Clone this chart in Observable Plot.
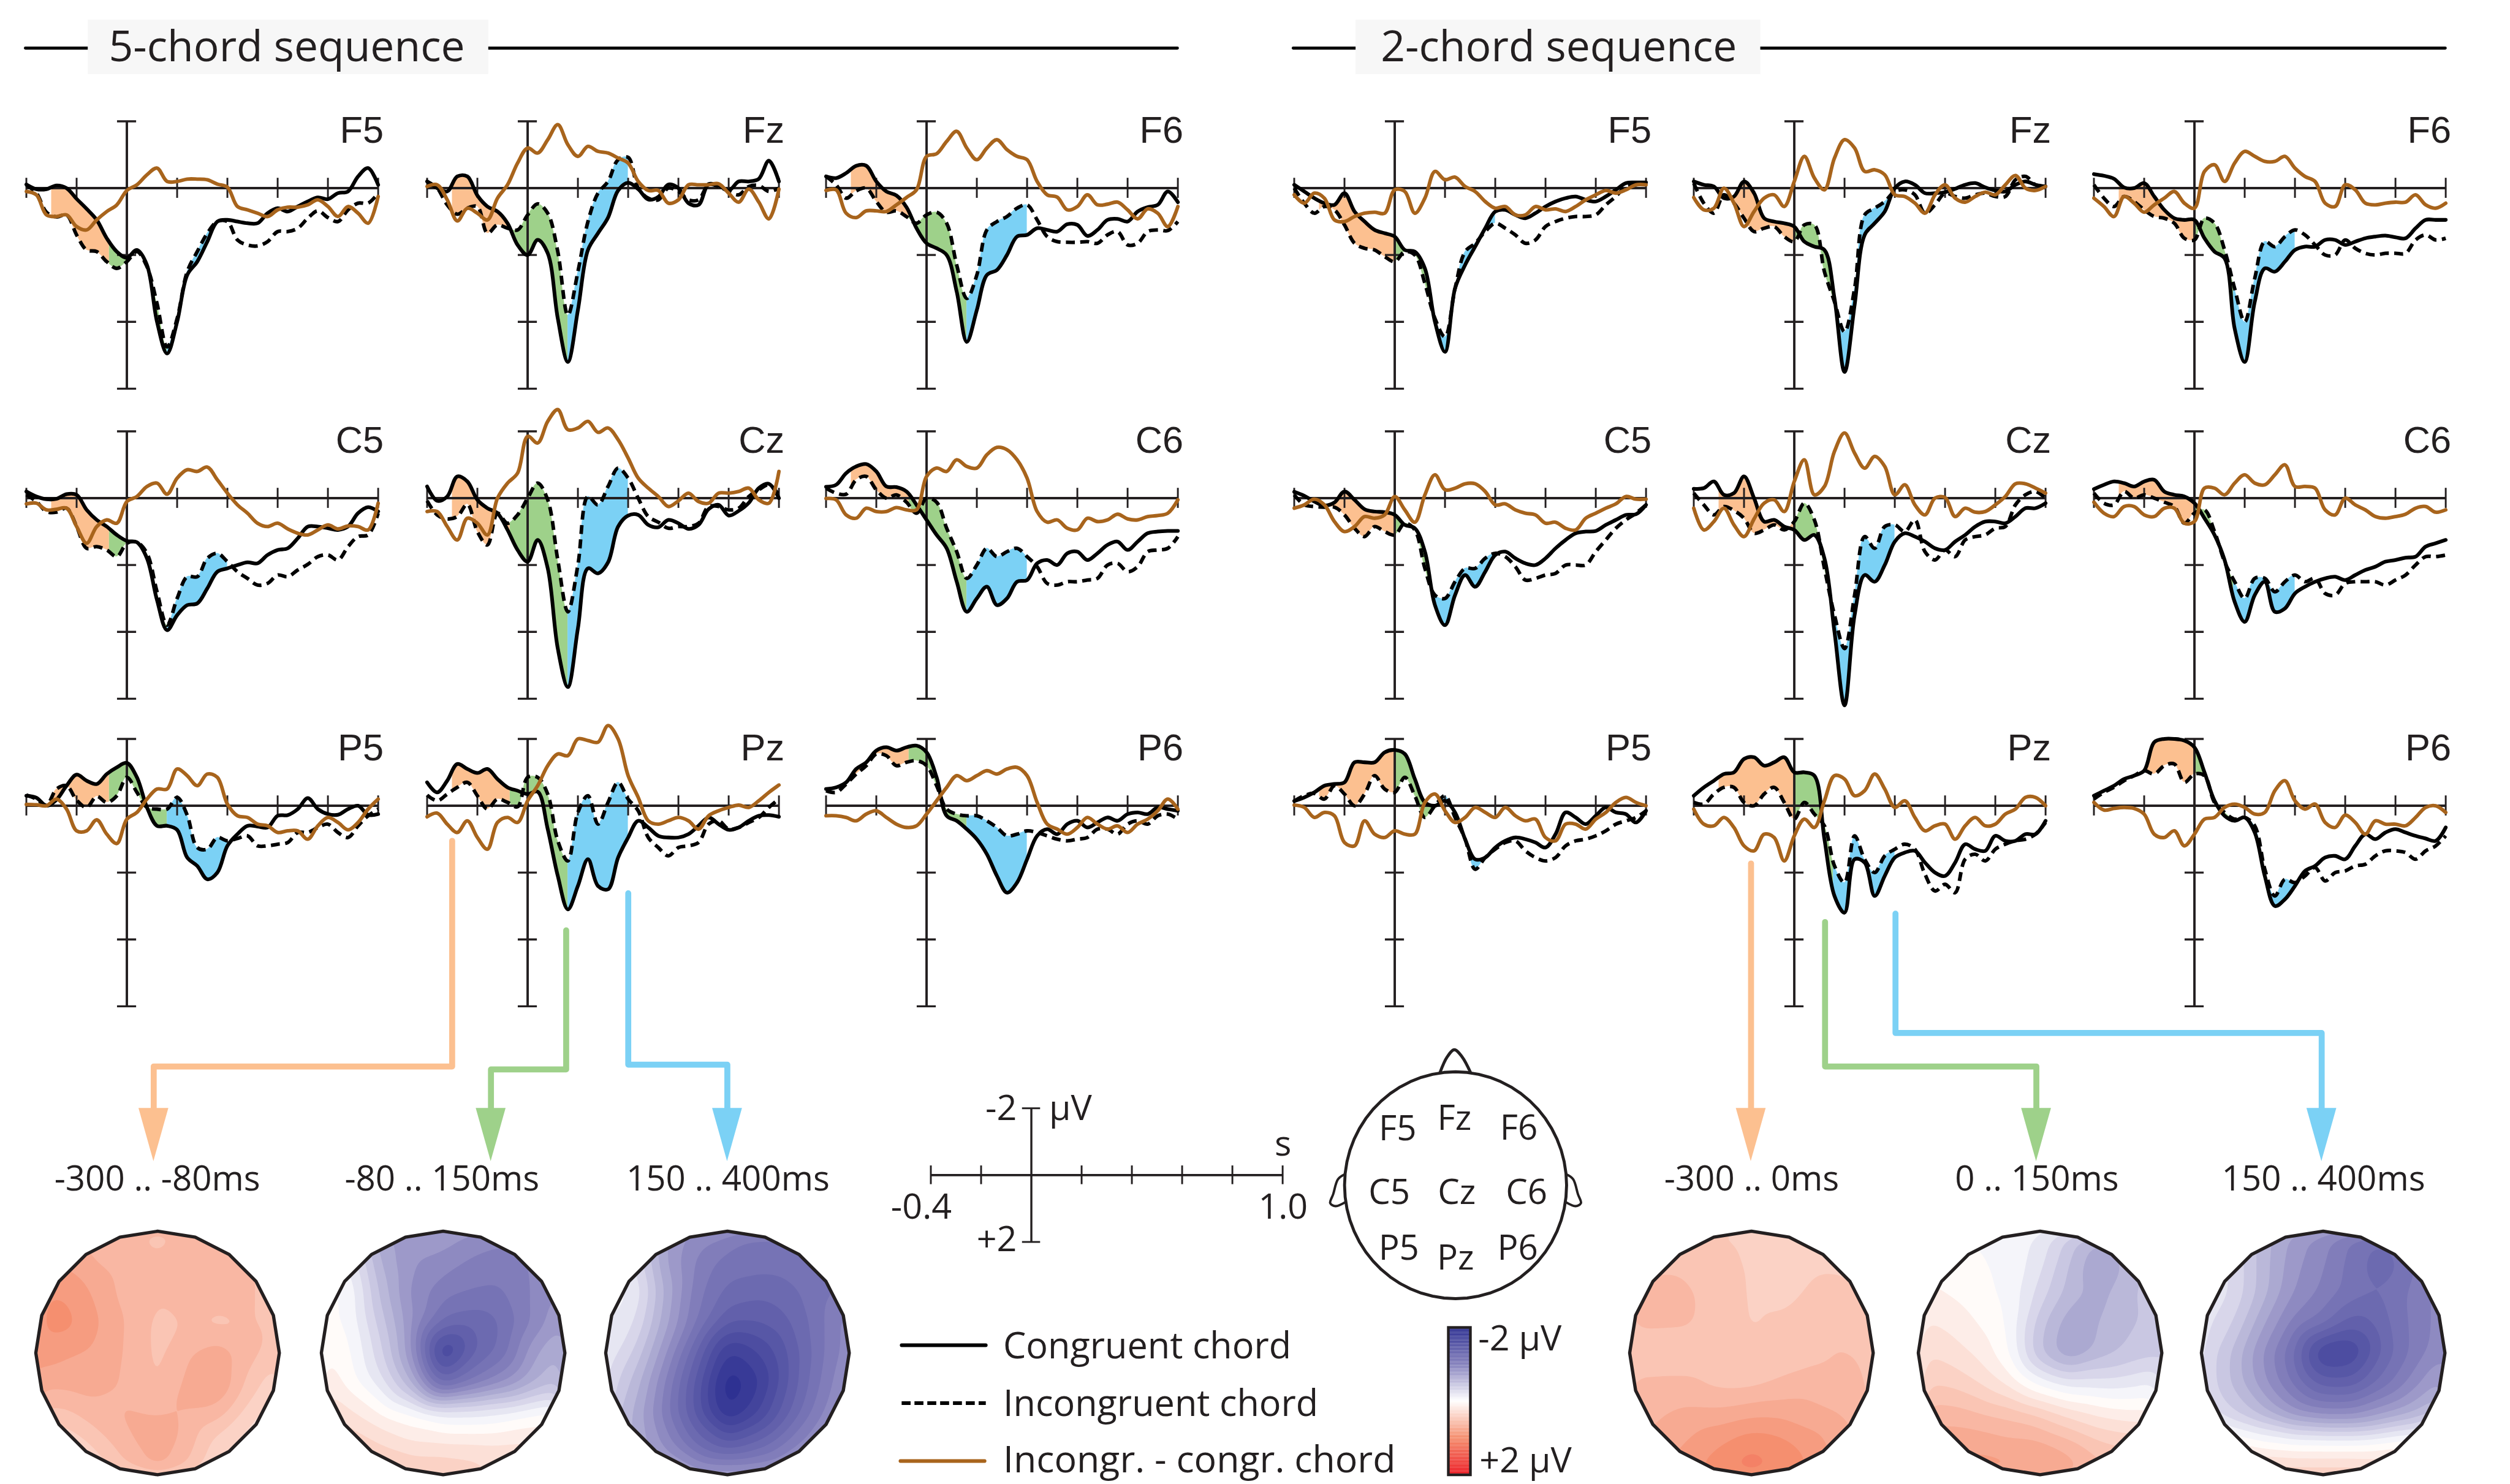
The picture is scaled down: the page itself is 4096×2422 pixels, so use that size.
<!DOCTYPE html>
<html>
<head>
<meta charset="utf-8">
<script src="https://cdn.jsdelivr.net/npm/d3@7"></script>
<script src="https://cdn.jsdelivr.net/npm/@observablehq/plot@0.6"></script>
<style>
html,body{margin:0;padding:0;background:#fff}
#page{position:relative;width:4096px;height:2422px;overflow:hidden;background:#fff}
#page svg{position:absolute;overflow:visible;max-width:none;background:transparent}
</style>
</head>
<body>
<div id="page"></div>
<script>
// ---------- time base of every ERP trace (s) ----------
const times = [-0.40,-0.36,-0.32,-0.28,-0.24,-0.20,-0.16,-0.12,-0.08,-0.04,0,0.04,0.08,0.12,0.16,0.20,0.24,0.28,0.32,0.36,0.40,0.44,0.48,0.52,0.56,0.60,0.64,0.68,0.72,0.76,0.80,0.84,0.88,0.92,0.96,1.00];

// ---------- 5-chord sequence, µV (negative up) ----------
const five_F5_cong = [-.11,.03,.03,-.08,0,.32,.62,.95,1.5,1.9,2.08,1.85,2.3,4.0,4.95,4.0,2.6,2.2,1.6,1.0,.95,1.0,1.05,1.05,.75,.6,.7,.55,.4,.28,.33,.15,.1,-.35,-.6,-.1];
const five_F5_incong = [-.09,.15,.72,.86,.8,1.4,1.85,1.9,2.2,2.4,2.2,1.9,2.35,3.45,4.75,3.9,2.5,1.9,1.35,1.0,1.0,1.55,1.7,1.73,1.6,1.3,1.3,1.2,.9,.68,.88,1.0,.65,.45,.45,.15];
const five_F5_diff = [.1,.2,.8,.85,.8,1.15,1.25,.95,.7,.5,.07,-.1,-.4,-.6,-.2,-.2,-.27,-.27,-.25,-.12,-.03,.55,.65,.75,.85,.65,.57,.57,.5,.35,.55,.85,.55,.75,1.05,.25];
const five_Fz_cong = [-.2,0,.1,-.35,-.35,.22,.55,.7,1.05,1.7,2.0,1.55,1.95,3.9,5.2,3.65,1.85,1.35,.88,.07,-.16,.03,.34,.26,-.11,0,.45,.5,-.12,-.08,.07,-.2,-.2,-.28,-.82,-.2];
const five_Fz_incong = [-.2,0,.5,.78,.6,.55,1.35,1.1,1.2,1.25,.8,.47,.75,1.9,3.8,2.5,1.0,.15,-.2,-.85,-.92,0,.3,.35,0,.1,.35,.35,-.1,-.05,.1,.2,-.05,-.08,.1,0];
const five_Fz_diff = [-.05,-.1,.35,.98,.6,.75,.95,.3,-.1,-.75,-1.2,-1.05,-1.45,-1.9,-1.3,-.95,-1.25,-1.1,-1.05,-.9,-.75,-.2,.07,.07,.45,.35,-.1,-.1,-.1,-.13,.15,.42,.03,.42,.92,.03];
const five_F6_cong = [-.35,-.3,-.45,-.67,-.67,-.2,.1,.22,.57,1.2,1.65,1.8,2.0,3.1,4.6,3.65,2.6,2.45,2.0,1.45,1.4,1.2,1.25,1.3,1.08,1.1,1.43,1.25,.95,.92,1.0,.7,.57,.5,.1,.42];
const five_F6_incong = [-.35,-.1,.3,.08,0,.4,.72,.68,.85,1.05,.8,.72,1.05,2.3,3.3,2.6,1.25,1.0,.85,.6,.5,.95,1.45,1.6,1.62,1.62,1.6,1.65,1.4,1.3,1.7,1.65,1.3,1.25,1.27,1.0];
const five_F6_diff = [.07,.05,.75,.88,.68,.68,.7,.5,.28,.05,-.95,-1.03,-1.4,-1.7,-1.2,-.85,-1.2,-1.45,-1.15,-.95,-.85,-.2,.2,.27,.65,.55,.2,.5,.48,.42,.65,.92,.62,.75,1.15,.55];
const five_C5_cong = [-.2,-.05,.03,.02,-.12,-.1,.35,.65,.85,1.1,1.28,1.32,1.8,3.05,3.95,3.5,3.2,3.15,2.7,2.2,2.1,2.0,1.92,1.95,1.7,1.55,1.5,1.2,.85,.85,.9,.95,.85,.45,.27,.4];
const five_C5_incong = [-.1,.1,.4,.42,.3,.85,1.5,1.45,1.55,1.75,1.35,1.32,1.65,2.8,3.8,3.0,2.35,2.35,1.8,1.65,1.9,2.2,2.4,2.6,2.55,2.3,2.35,2.15,1.98,1.75,1.7,1.85,1.45,1.15,1.1,.45];
const five_C5_diff = [.17,.15,.35,.33,.3,.85,1.35,.85,.65,.75,.1,-.05,-.35,-.45,-.12,-.6,-.85,-.8,-.93,-.55,-.15,.2,.45,.75,.85,.75,.92,1.05,1.1,.95,.8,.92,.83,.85,.95,.15];
const five_Cz_cong = [-.35,.08,-.05,-.65,-.5,.05,.3,.45,.95,1.55,1.9,1.25,2.1,4.5,5.65,3.9,2.1,2.25,1.92,.85,.52,.5,.8,.87,.65,.75,.92,.8,.33,.2,.52,.38,.14,-.3,-.43,0];
const five_Cz_incong = [.08,.5,.62,.55,.18,1.0,1.4,.45,.75,.5,0,-.45,.05,1.85,3.4,2.0,-.05,.2,-.35,-.9,-.6,0,.55,.72,.9,.85,.85,.75,.25,.25,.35,.3,-.05,-.25,-.4,-.1];
const five_Cz_diff = [.4,.4,.85,1.25,.6,.75,1.1,0,-.45,-.75,-1.85,-1.65,-2.3,-2.65,-2.05,-2.1,-2.3,-1.97,-2.1,-1.75,-1.2,-.6,-.3,-.05,.25,.08,-.15,.1,.15,-.15,-.15,-.2,-.3,.05,.15,-.8];
const five_C6_cong = [-.34,-.4,-.75,-.95,-1.02,-.8,-.35,-.33,-.2,.2,.65,1.1,1.5,2.5,3.4,3.0,2.65,3.2,3.0,2.5,2.45,1.95,1.85,2.0,1.65,1.6,1.85,1.65,1.4,1.3,1.55,1.3,1.05,1.0,.98,.98];
const five_C6_incong = [-.3,-.15,-.12,-.55,-.65,-.25,0,-.1,.12,.45,0,.12,.9,1.6,2.4,2.0,1.5,1.75,1.6,1.5,1.75,2.05,2.55,2.6,2.5,2.5,2.45,2.4,2.0,1.95,2.2,2.05,1.6,1.55,1.5,1.15];
const five_C6_diff = [.01,.05,.5,.6,.3,.4,.4,.28,.35,.35,-.65,-.9,-.8,-1.15,-.95,-.9,-1.3,-1.52,-1.45,-1.15,-.6,.4,.72,.65,.9,.95,.6,.7,.65,.48,.62,.65,.55,.52,.45,.05];
const five_P5_cong = [-.3,-.24,0,-.18,-.6,-.93,-.75,-.65,-.95,-1.15,-1.28,-.85,.05,.6,.6,.72,1.55,1.8,2.2,2.0,1.2,.85,.6,.62,.65,.3,.28,.1,-.23,.1,.25,.27,.1,0,.27,.25];
const five_P5_incong = [-.32,-.2,-.02,-.5,-.6,-.17,.05,-.28,-.1,-.3,-.85,-.4,.05,.1,.1,-.25,.28,1.25,1.3,.95,1.05,.98,.9,1.2,1.2,1.15,1.1,.8,.8,.65,.55,.8,.95,.6,.3,.1];
const five_P5_diff = [-.04,-.03,0,-.2,.1,.75,.75,.42,.85,1.13,.4,.2,-.2,-.5,-.5,-1.1,-.9,-.6,-.95,-.85,-.05,.3,.35,.55,.6,.8,.75,.75,1.0,.6,.35,.5,.72,.5,.1,-.2];
const five_Pz_cong = [-.7,-.4,-.75,-1.25,-1.1,-.98,-1.1,-.8,-.55,-.45,-.35,-.42,.7,2.1,3.1,2.4,1.6,2.4,2.5,1.55,.95,.45,.65,.9,.95,.95,.85,.6,.35,.55,.72,.65,.45,.3,.28,.33];
const five_Pz_incong = [-.32,-.15,-.35,-.55,-.7,-.3,.1,-.2,-.1,.03,-.85,-.85,-.35,1.05,1.65,.2,-.3,.55,-.1,-.7,-.2,.15,.95,1.25,1.5,1.25,1.2,1.1,.55,.45,.7,.65,.5,.35,.05,-.2];
const five_Pz_diff = [.33,.22,.55,.8,.45,.95,1.3,.5,.35,.5,-.15,-.6,-1.2,-1.55,-1.5,-2.0,-1.95,-1.9,-2.4,-2.0,-.9,-.25,.45,.55,.45,.35,.45,.7,.3,.15,.05,-.02,.05,-.15,-.4,-.62];
const five_P6_cong = [-.5,-.55,-.7,-1.1,-1.3,-1.65,-1.75,-1.65,-1.75,-1.8,-1.6,-.85,.3,.45,.7,1.0,1.45,2.1,2.6,2.3,1.6,.9,.7,.85,.55,.45,.65,.5,.35,.45,.25,.2,.25,.05,.1,.15];
const five_P6_incong = [-.45,-.4,-.65,-.95,-1.2,-1.55,-1.5,-1.2,-1.3,-1.35,-1.2,-.6,.1,.25,.3,.3,.45,.65,.9,.85,.75,.8,.9,1.0,1.05,1.0,.95,.7,.7,.85,.55,.45,.55,.3,.25,.4];
const five_P6_diff = [.3,.3,.35,.45,.25,.15,.35,.55,.65,.6,.25,-.15,-.55,-.9,-.75,-.9,-1.05,-.95,-1.1,-1.15,-.9,-.1,.55,.7,.85,.65,.35,.55,.7,.6,.8,.55,.4,.15,-.2,.1];

// ---------- 2-chord sequence, µV (negative up) ----------
const two_F5_cong = [-.1,.1,.3,.45,.5,.15,.7,1.0,1.25,1.35,1.45,1.85,1.9,2.4,4.0,4.9,3.0,2.3,1.75,1.2,.7,.65,.8,.9,.75,.55,.4,.3,.25,.35,.4,.25,.05,-.15,-.17,-.17];
const two_F5_incong = [0,.45,.75,.55,.65,1.1,1.65,1.8,1.85,2.05,2.2,1.9,2.0,2.85,3.9,4.45,3.0,1.9,1.65,1.3,1.05,1.2,1.4,1.65,1.55,1.15,1.0,.9,.85,.85,.8,.5,.25,-.05,-.1,-.15];
const two_F5_diff = [.2,.45,.15,.3,.95,1.0,.85,.75,.72,.75,.05,.1,.75,.3,-.5,-.25,-.33,-.05,.1,.4,.6,.55,.8,.8,.55,.65,.62,.7,.55,.35,.2,.07,.15,.05,-.1,-.1];
const two_Fz_cong = [-.2,-.1,-.05,.3,.25,-.2,.15,.9,1.0,1.05,1.15,1.6,1.75,1.85,3.3,5.5,3.5,1.4,1.05,.7,0,-.2,-.1,.15,.15,.12,.02,-.1,-.15,-.02,.07,.1,-.1,-.2,-.1,-.05];
const two_Fz_incong = [-.15,.45,.75,.2,.45,.9,1.3,1.2,1.15,1.45,1.6,1.1,1.1,2.5,3.4,4.3,3.0,.8,.6,.4,.1,.05,.2,.75,.5,.15,.25,.3,.2,.15,.25,.25,-.25,-.35,-.1,-.05];
const two_Fz_diff = [.28,.65,.6,0,.45,1.15,.7,.3,.2,.55,-.2,-.95,-.3,.05,-.9,-1.45,-1.2,-.5,-.55,-.4,.2,.25,.45,.75,.2,-.1,.3,.42,.25,.12,.2,-.1,-.38,0,.07,-.05];
const two_F6_cong = [-.42,-.37,-.28,-.02,0,-.15,.25,.65,.9,.95,.95,1.5,1.9,2.1,4.2,5.2,3.4,2.4,2.5,2.2,1.85,1.75,1.75,1.55,1.55,1.7,1.6,1.5,1.45,1.42,1.47,1.5,1.2,.95,.95,.95];
const two_F6_incong = [-.1,.3,.55,.25,.4,.65,.85,.9,1.05,1.5,1.55,.9,1.05,1.85,3.0,4.0,2.7,1.6,1.75,1.45,1.25,1.4,1.7,2.0,2.0,1.55,1.8,1.95,2.0,1.95,1.95,1.95,1.55,1.4,1.55,1.5];
const two_F6_diff = [.3,.55,.85,.25,.45,.72,.5,.3,.1,.45,.6,-.5,-.7,-.2,-.75,-1.1,-.95,-.8,-.8,-.95,-.6,-.35,-.2,.45,.55,-.1,.05,.45,.5,.45,.42,.42,.2,.5,.6,.45];
const two_C5_cong = [-.19,-.07,.1,.22,.13,-.2,.05,.33,.4,.42,.5,.8,.9,1.6,3.2,3.8,2.9,2.3,2.65,2.2,1.7,1.6,1.8,1.95,2.0,1.8,1.5,1.25,1.05,1.0,.98,.8,.65,.5,.48,.2];
const two_C5_incong = [-.1,.2,.25,.27,.27,.5,.9,1.15,.85,1.0,1.1,.75,.95,2.1,2.9,3.0,2.5,2.1,2.1,1.8,1.65,1.75,2.05,2.45,2.4,2.3,2.25,2.0,2.0,2.0,1.6,1.25,.9,.65,.45,.2];
const two_C5_diff = [.3,.2,.03,.2,.7,1.0,.85,.55,.6,.5,-.05,.35,.72,-.1,-.7,-.25,-.3,-.43,-.43,-.2,.2,.17,.35,.45,.5,.75,.72,.9,.95,.6,.45,.3,.17,-.05,.03,.03];
const two_Cz_cong = [-.28,-.3,-.5,-.1,-.15,-.65,0,.7,.65,.85,.95,1.25,1.1,1.8,4.0,6.2,3.5,2.3,2.5,2.0,1.3,1.05,1.15,1.3,1.5,1.55,1.3,1.1,.85,.7,.7,.75,.55,.3,.3,.15];
const two_Cz_incong = [-.15,.2,.5,.25,.37,.6,1.05,.95,.8,.95,.7,.15,.65,2.1,3.5,4.5,2.9,1.15,1.5,.85,.8,1.0,.65,1.6,1.85,1.55,1.75,1.25,1.15,1.1,.9,.85,.2,-.1,-.2,0];
const two_Cz_diff = [.3,.95,.7,.3,.8,1.15,.62,.15,.05,.4,-.5,-1.15,-.1,-.35,-1.4,-1.95,-1.35,-.9,-1.25,-.95,-.1,-.4,.2,.5,0,-.02,.55,.3,.42,.4,.2,-.05,-.43,-.43,-.3,-.15];
const two_C6_cong = [-.27,-.4,-.5,-.45,-.35,-.5,-.55,-.2,-.1,-.05,.15,.6,1.1,1.85,3.1,3.7,2.9,2.5,3.4,3.3,2.85,2.65,2.5,2.4,2.35,2.45,2.3,2.15,2.05,1.9,1.85,1.78,1.75,1.45,1.35,1.25];
const two_C6_incong = [-.15,.15,.2,-.2,0,-.1,0,.12,.25,.75,.45,.35,1.0,1.9,2.5,3.0,2.4,2.4,2.8,2.5,2.3,2.5,2.4,2.85,2.9,2.55,2.5,2.5,2.5,2.6,2.45,2.3,2.0,1.75,1.75,1.7];
const two_C6_diff = [.12,.45,.55,.25,.25,.5,.55,.3,.3,.75,.7,-.3,-.3,-.1,-.45,-.7,-.45,-.4,-.7,-1.0,-.35,-.35,-.3,.35,.5,0,.2,.35,.55,.6,.55,.48,.3,.25,.42,.35];
const two_P5_cong = [-.14,-.25,-.4,-.6,-.65,-.7,-1.3,-1.3,-1.3,-1.6,-1.67,-1.55,-.8,-.1,0,-.15,.2,1.0,1.6,1.55,1.25,1.05,.95,1.0,1.1,1.25,.85,.2,.35,.55,.3,.05,.2,.25,.5,.15];
const two_P5_incong = [-.14,-.3,-.37,-.2,-.6,-.35,0,-.35,-.9,-.5,-.4,-.85,-.3,.35,0,-.3,.35,1.0,1.9,1.55,1.3,1.1,1.05,1.35,1.55,1.65,1.55,1.2,1.05,1.0,.9,.75,.55,.45,.35,.15];
const two_P5_diff = [-.02,.05,.35,.2,.3,1.1,1.2,.45,.85,.95,.75,.85,.85,-.1,-.35,.15,.5,.35,.05,.2,.35,.05,.3,.45,.4,.95,1.05,.55,.55,.7,.4,.2,-.1,-.25,-.1,0];
const two_Pz_cong = [-.3,-.55,-.75,-.95,-1.0,-1.4,-1.45,-1.2,-1.3,-1.45,-1.0,-1.0,-.9,1.0,2.7,3.2,1.6,1.7,2.7,2.1,1.55,1.4,1.35,1.7,2.0,2.1,1.7,1.15,1.3,1.35,.9,1.05,1.05,.85,.85,.45];
const two_Pz_incong = [-.1,-.05,-.35,-.55,-.55,-.1,0,-.35,-.55,-.1,.4,-.1,.25,.6,1.8,2.3,.9,1.6,2.0,1.5,1.3,1.15,1.3,2.05,2.55,2.35,2.6,1.6,1.45,1.65,1.3,1.15,1.05,1.0,.85,.5];
const two_Pz_diff = [.1,.55,.6,.35,.65,1.2,1.35,.85,.95,1.65,.9,.4,.65,-.15,-.9,-.8,-.3,-.45,-.95,-.5,.05,-.15,.35,.75,.6,.55,1.0,.6,.35,.6,.55,.25,.1,-.25,-.25,0];
const two_P6_cong = [-.3,-.45,-.6,-.8,-.9,-1.05,-1.9,-2.0,-2.0,-1.95,-1.75,-1.0,-.15,.3,.45,.35,.8,2.1,3.0,2.8,2.4,1.95,1.8,1.55,1.5,1.6,1.2,.85,1.0,.8,.7,.8,.9,.98,1.05,.65];
const two_P6_incong = [-.2,-.4,-.55,-.75,-.9,-1.05,-.95,-1.2,-1.25,-.7,-.95,-.9,-.1,.2,.4,.35,.6,1.9,2.7,2.2,2.3,2.1,1.85,2.25,2.0,1.95,1.8,1.75,1.5,1.35,1.35,1.4,1.6,1.35,1.2,.9];
const two_P6_diff = [-.1,.13,.08,.05,.08,.25,.85,.95,.75,1.2,.85,.4,.35,.05,-.05,.05,.25,.2,-.45,-.75,-.15,.1,-.05,.5,.65,.28,.5,.85,.45,.55,.55,.6,.35,.05,0,.2];

// ---------- scalp maps, µV, 9×9 samples, rows front to back ----------
const map_5_early = [
 [.8,.8,.7,.65,.6,.65,.65,.6,.6],[.9,.85,.75,.7,.65,.72,.7,.65,.6],[1.0,1.0,.85,.7,.65,.7,.7,.65,.6],
 [1.0,1.05,.9,.75,.6,.65,.6,.65,.6],[.95,.9,.85,.75,.6,.75,.85,.7,.55],[.8,.8,.8,.75,.62,.8,.9,.6,.4],
 [.6,.6,.72,.78,.75,.75,.7,.45,.3],[.4,.4,.55,.72,.85,.7,.45,.35,.2],[.3,.3,.4,.6,.8,.6,.35,.25,.2]];
const map_5_mid = [
 [-.2,-.4,-.7,-.75,-.7,-.8,-.85,-.8,-.7],[0,-.1,-.6,-.8,-.85,-.95,-1.0,-.9,-.8],[.1,0,-.5,-.85,-1.0,-1.05,-1.05,-.9,-.8],
 [.1,0,-.4,-.8,-1.2,-1.25,-1.15,-.9,-.65],[.2,.05,-.3,-.8,-1.75,-1.3,-1.1,-.7,-.5],[.3,.1,-.15,-.55,-1.25,-1.0,-.8,-.55,-.4],
 [.45,.3,.15,.05,-.1,-.1,-.05,.05,.1],[.6,.5,.4,.3,.3,.3,.3,.3,.3],[.75,.65,.55,.55,.55,.5,.4,.35,.35]];
const map_5_late = [
 [-.3,-.5,-.7,-.85,-.9,-1.05,-1.05,-1.0,-.9],[-.1,-.2,-.7,-.95,-1.1,-1.1,-1.1,-1.1,-1],[0,-.1,-.6,-1.0,-1.2,-1.25,-1.2,-1.1,-1.0],
 [-.05,-.2,-.65,-1.05,-1.4,-1.4,-1.3,-1.1,-.8],[-.1,-.35,-.8,-1.3,-1.8,-1.65,-1.4,-1.1,-.8],[-.2,-.5,-.95,-1.45,-2.0,-1.8,-1.4,-1.05,-.75],
 [-.3,-.6,-1.0,-1.45,-1.9,-1.65,-1.3,-.95,-.7],[-.4,-.6,-.85,-1.2,-1.4,-1.25,-1.0,-.8,-.65],[-.4,-.5,-.6,-.7,-.7,-.7,-.65,-.6,-.5]];
const map_2_early = [
 [.5,.55,.55,.5,.5,.45,.45,.45,.4],[.6,.6,.6,.55,.5,.45,.5,.5,.45],[.65,.7,.65,.6,.5,.45,.55,.55,.5],
 [.65,.65,.65,.6,.5,.55,.6,.6,.55],[.6,.6,.6,.6,.55,.6,.6,.65,.6],[.65,.65,.65,.6,.6,.65,.7,.7,.65],
 [.7,.75,.8,.8,.85,.85,.8,.75,.7],[.8,.8,.9,1.0,1.1,1.05,.95,.8,.7],[.8,.85,1.0,1.1,1.25,1.1,1.0,.85,.75]];
const map_2_mid = [
 [.1,.05,.02,0,-.1,-.35,-.5,-.35,-.25],[.12,.08,.05,0,-.15,-.45,-.7,-.5,-.35],[.2,.15,.08,0,-.25,-.5,-.6,-.45,-.35],
 [.3,.25,.15,.02,-.4,-.65,-.55,-.45,-.4],[.4,.35,.25,.05,-.45,-.7,-.5,-.4,-.35],[.5,.5,.4,.25,.0,-.15,-.15,-.12,-.05],
 [.7,.7,.65,.6,.5,.35,.25,.2,.2],[.85,.85,.85,.8,.8,.7,.55,.5,.5],[.9,.95,.95,.95,.95,.85,.7,.6,.6]];
const map_2_late = [
 [-.2,-.3,-.5,-.7,-.85,-1.05,-1.1,-1.0,-.8],[-.1,-.2,-.5,-.75,-.9,-1.1,-1.25,-1.05,-.85],[-.1,-.2,-.5,-.8,-.95,-1.1,-1.15,-1.0,-.85],
 [-.15,-.3,-.65,-.95,-1.1,-1.35,-1.2,-1.0,-.85],[-.2,-.45,-.8,-1.15,-1.7,-1.65,-1.25,-1.0,-.8],[-.2,-.45,-.75,-1.05,-1.35,-1.35,-1.1,-.85,-.6],
 [-.1,-.3,-.5,-.75,-.85,-.85,-.7,-.55,-.35],[.3,.2,.1,.05,.05,.05,.1,.15,.2],[.55,.55,.55,.55,.55,.55,.5,.45,.4]];

// ---------- tick values and labels ----------
const timeTicks = [-0.4,-0.2,0,0.2,0.4,0.6,0.8,1.0];
const voltTicks = [-2,2,4,6];
const keyVoltTicks = [-2,2];
const electrodes = [["F5","Fz","F6"],["C5","Cz","C6"],["P5","Pz","P6"]];

// ---------- layout and style (reference pixels, scaled by S) ----------
const S = 4096/4205;
const INK = "#231f20", BROWN = "#a8641c", ORANGE = "#fcc090", GREEN = "#9ed18a", BLUE = "#7bd1f5";
const SANS = "Open Sans", ARIAL = "Liberation Sans";
const PXS = 421, PXV = 56;
const columns5 = [44,715,1383], columns2 = [2168,2837,3507], rowZeros = [315,834,1350];
const page = document.getElementById("page");
const curve = "catmull-rom";

let clipCount = 0;
function clipWith(makeShape){
  return function(index,scales,values,dims,context,next){
    const g = next(index,scales,values,dims,context);
    const ns = "http://www.w3.org/2000/svg", id = "clip"+(++clipCount);
    const cp = document.createElementNS(ns,"clipPath");
    cp.setAttribute("id",id);
    cp.appendChild(makeShape(ns,scales,dims));
    g.insertBefore(cp,g.firstChild);
    g.setAttribute("clip-path",`url(#${id})`);
    return g;
  };
}
const timeWindow = (t0,t1) => clipWith((ns,scales,dims)=>{
  const r = document.createElementNS(ns,"rect");
  r.setAttribute("x",scales.x(t0)); r.setAttribute("width",scales.x(t1)-scales.x(t0));
  r.setAttribute("y",0); r.setAttribute("height",dims.height);
  return r;
});
function place(svg,left,top){
  svg.style.left = (left*S)+"px"; svg.style.top = (top*S)+"px";
  page.appendChild(svg);
}

function erpPanel(x0,zero,label,cong,incong,diff,windows){
  const rows = times.map((t,i)=>({t,c:cong[i],n:incong[i],d:diff[i]}));
  const [o0,o1,g1,b1] = windows;
  const svg = Plot.plot({
    width:1.55*PXS*S, height:9.6*PXV*S, margin:0,
    x:{domain:[-.45,1.1],axis:null}, y:{domain:[6.4,-3.2],axis:null},
    style:{background:"transparent"},
    marks:[
      Plot.areaY(rows,{x:"t",y1:"c",y2:"n",fill:ORANGE,curve,render:timeWindow(o0,o1)}),
      Plot.areaY(rows,{x:"t",y1:"c",y2:"n",fill:GREEN,curve,render:timeWindow(o1,g1)}),
      Plot.areaY(rows,{x:"t",y1:"c",y2:"n",fill:BLUE,curve,render:timeWindow(g1,b1)}),
      Plot.ruleY([0],{x1:-.4,x2:1.0,stroke:INK,strokeWidth:4*S}),
      Plot.ruleX(timeTicks.filter(t=>t!==0),{x:d=>d,y1:-.3,y2:.3,stroke:INK,strokeWidth:3*S}),
      Plot.ruleX([0],{y1:-2,y2:6,stroke:INK,strokeWidth:4*S}),
      Plot.ruleY(voltTicks,{y:d=>d,x1:-.038,x2:.038,stroke:INK,strokeWidth:3.5*S}),
      Plot.line(rows,{x:"t",y:"n",stroke:"#000",strokeWidth:6*S,strokeDasharray:`${15*S},${9*S}`,curve,strokeLinecap:"butt"}),
      Plot.line(rows,{x:"t",y:"c",stroke:"#000",strokeWidth:6.2*S,curve}),
      Plot.line(rows,{x:"t",y:"d",stroke:BROWN,strokeWidth:6*S,curve}),
      Plot.text([label],{text:d=>d,x:1.022,y:-1.72,textAnchor:"end",fontFamily:ARIAL,fontSize:63*S,fill:INK})
    ]
  });
  place(svg,x0-.05*PXS,zero-3.2*PXV);
}

const series = {
  five:{F5:[five_F5_cong,five_F5_incong,five_F5_diff],Fz:[five_Fz_cong,five_Fz_incong,five_Fz_diff],F6:[five_F6_cong,five_F6_incong,five_F6_diff],
        C5:[five_C5_cong,five_C5_incong,five_C5_diff],Cz:[five_Cz_cong,five_Cz_incong,five_Cz_diff],C6:[five_C6_cong,five_C6_incong,five_C6_diff],
        P5:[five_P5_cong,five_P5_incong,five_P5_diff],Pz:[five_Pz_cong,five_Pz_incong,five_Pz_diff],P6:[five_P6_cong,five_P6_incong,five_P6_diff]},
  two:{F5:[two_F5_cong,two_F5_incong,two_F5_diff],Fz:[two_Fz_cong,two_Fz_incong,two_Fz_diff],F6:[two_F6_cong,two_F6_incong,two_F6_diff],
       C5:[two_C5_cong,two_C5_incong,two_C5_diff],Cz:[two_Cz_cong,two_Cz_incong,two_Cz_diff],C6:[two_C6_cong,two_C6_incong,two_C6_diff],
       P5:[two_P5_cong,two_P5_incong,two_P5_diff],Pz:[two_Pz_cong,two_Pz_incong,two_Pz_diff],P6:[two_P6_cong,two_P6_incong,two_P6_diff]}
};

// ---------- page furniture, beneath the panels ----------
function txt(s,x,y,size,anchor="middle",font=SANS){
  return Plot.text([s],{text:d=>d,x,y,fontSize:size*S,fontFamily:font,textAnchor:anchor,lineAnchor:"bottom",fill:INK});
}
function path(points,stroke,width,extra={}){
  return Plot.line(points,{x:d=>d[0],y:d=>d[1],stroke,strokeWidth:width*S,strokeLinejoin:"round",...extra});
}
function arrowHead(cx,color){
  return Plot.areaX([{y:1856,a:cx-25,b:cx+25},{y:1945,a:cx,b:cx}],{y:"y",x1:"a",x2:"b",fill:color});
}
const ellipse = d3.range(0,361,6).map(a=>[2438+186*Math.sin(a*Math.PI/180),1985-190*Math.cos(a*Math.PI/180)]);
const furniture = Plot.plot({
  width:4096,height:2422,margin:0,
  x:{domain:[0,4205],range:[0,4096],axis:null},y:{domain:[0,2486],range:[0,2422],axis:null},
  style:{background:"transparent"},
  marks:[
    // section headers
    path([[42,80],[1972,80]],"#000",5),
    path([[2166,80],[4096,80]],"#000",5),
    Plot.rect([0],{x1:147,x2:818,y1:33,y2:124,fill:"#f7f7f7"}),
    Plot.rect([0],{x1:2271,x2:2949,y1:33,y2:124,fill:"#f7f7f7"}),
    txt("5-chord sequence",480,102,71.5),
    txt("2-chord sequence",2611,102,71.5),
    // connectors
    path([[757,1408],[757,1786],[257,1786],[257,1870]],ORANGE,10),arrowHead(257,ORANGE),
    path([[948,1558],[948,1791],[822,1791],[822,1870]],GREEN,10),arrowHead(822,GREEN),
    path([[1052,1496],[1052,1783],[1218,1783],[1218,1870]],BLUE,10),arrowHead(1218,BLUE),
    path([[2933,1446],[2933,1870]],ORANGE,10),arrowHead(2933,ORANGE),
    path([[3057,1544],[3057,1786],[3411,1786],[3411,1870]],GREEN,10),arrowHead(3411,GREEN),
    path([[3175,1530],[3175,1730],[3889,1730],[3889,1870]],BLUE,10),arrowHead(3889,BLUE),
    // window labels
    txt("-300 .. -80ms",263,1994,58),txt("-80 .. 150ms",740,1994,58),txt("150 .. 400ms",1219,1994,58),
    txt("-300 .. 0ms",2934,1994,58),txt("0 .. 150ms",3412,1994,58),txt("150 .. 400ms",3892,1994,58),
    // key labels
    txt("-2",1703,1876,59,"end"),txt("µV",1757,1876,59,"start"),txt("+2",1703,2095,59,"end"),
    txt("s",2149,1935,59),txt("-0.4",1543,2041,59),txt("1.0",2149,2041,59),
    // head
    path(ellipse,INK,5),
    path([[2412,1796],[2424,1770],[2436,1758],[2449,1770],[2463,1796]],INK,5,{curve}),
    path([[2252,1967],[2241,1975],[2233,2000],[2228,2015],[2237,2020],[2254,2013]],INK,4,{curve}),
    path([[2624,1967],[2635,1975],[2643,2000],[2648,2015],[2639,2020],[2622,2013]],INK,4,{curve}),
    txt("F5",2341,1910,58),txt("Fz",2436,1892,58),txt("F6",2544,1909,58),
    txt("C5",2327,2016,58),txt("Cz",2440,2016,58),txt("C6",2557,2016,58),
    txt("P5",2343,2110,58),txt("Pz",2438,2126,58),txt("P6",2542,2110,58),
    // legend
    path([[1510,2253],[1651,2253]],"#000",6),
    path([[1510,2350],[1651,2350]],"#000",6,{strokeDasharray:`${15*S},${6.5*S}`,strokeLinecap:"butt"}),
    path([[1508,2447],[1649,2447]],BROWN,6),
    txt("Congruent chord",1680,2275,61,"start"),
    txt("Incongruent chord",1680,2372,61,"start"),
    txt("Incongr. - congr. chord",1680,2466,62.5,"start"),
    txt("-2 µV",2476,2262,59,"start"),
    txt("+2 µV",2478,2466,59,"start")
  ]
});
place(furniture,0,0);

// ---------- key axes ----------
place(Plot.plot({
  width:1.55*PXS*S,height:5*PXV*S,margin:0,
  x:{domain:[-.45,1.1],axis:null},y:{domain:[2.5,-2.5],axis:null},
  style:{background:"transparent"},
  marks:[
    Plot.ruleY([0],{x1:-.4,x2:1.0,stroke:INK,strokeWidth:4*S}),
    Plot.ruleX(timeTicks.filter(t=>t!==0),{x:d=>d,y1:-.28,y2:.28,stroke:INK,strokeWidth:3*S}),
    Plot.ruleX([0],{y1:-2,y2:2,stroke:INK,strokeWidth:3.5*S}),
    Plot.ruleY(keyVoltTicks,{y:d=>d,x1:-.036,x2:.036,stroke:INK,strokeWidth:3*S})
  ]
}),1559-.05*PXS,1968-2.5*PXV);

// ---------- ERP panels ----------
electrodes.forEach((row,r)=>row.forEach((name,c)=>{
  erpPanel(columns5[c],rowZeros[r],name,...series.five[name],[-.3,-.07,.16,.4]);
  erpPanel(columns2[c],rowZeros[r],name,...series.two[name],[-.3,0,.155,.4]);
}));

// ---------- scalp maps ----------
const colorScale = {type:"linear",domain:[-2,-1,0,1,2],range:["#2e3192","#8480bc","#ffffff","#f58f6f","#ed1c24"],clamp:true};
const gridAxis = [-1,-.75,-.5,-.25,0,.25,.5,.75,1];
const outline = d3.range(0,21).map(k=>[Math.sin(k*Math.PI/10),Math.cos(k*Math.PI/10)]);
const R = 204;
function scalpMap(cx,cy,grid){
  const pts = grid.flatMap((row,j)=>row.map((v,i)=>({x:gridAxis[i],y:gridAxis[8-j],v})));
  const clip = clipWith((ns,scales)=>{
    const p = document.createElementNS(ns,"polygon");
    p.setAttribute("points",outline.map(([a,b])=>`${scales.x(a)},${scales.y(b)}`).join(" "));
    return p;
  });
  const side = 2.1*R*S;
  place(Plot.plot({
    width:side,height:side,margin:0,
    x:{domain:[-1.05,1.05],axis:null},y:{domain:[-1.05,1.05],axis:null},
    color:colorScale,style:{background:"transparent"},
    marks:[
      Plot.contour(pts,{x:"x",y:"y",fill:"v",interpolate:"barycentric",pixelSize:3,blur:4,thresholds:d3.range(-2.6,2.6,.12),render:clip}),
      Plot.line(outline,{x:d=>d[0],y:d=>d[1],stroke:INK,strokeWidth:5.5*S,strokeLinejoin:"miter"})
    ]
  }),cx-1.05*R,cy-1.05*R);
}
scalpMap(263,2266,map_5_early);
scalpMap(742,2266,map_5_mid);
scalpMap(1218,2266,map_5_late);
scalpMap(2934,2266,map_2_early);
scalpMap(3417,2266,map_2_mid);
scalpMap(3892,2266,map_2_late);

// ---------- colour bar ----------
const barSteps = d3.range(-2,2,.04);
place(Plot.plot({
  width:37*S,height:247*S,margin:0,
  x:{domain:[0,1],axis:null},y:{domain:[2,-2],axis:null},
  color:colorScale,style:{background:"transparent"},
  marks:[
    Plot.rect(barSteps,{x1:0,x2:1,y1:d=>d,y2:d=>d+.04,fill:d=>d+.02}),
    Plot.frame({stroke:INK,strokeWidth:4.5*S})
  ]
}),2426,2224);
</script>
</body>
</html>
